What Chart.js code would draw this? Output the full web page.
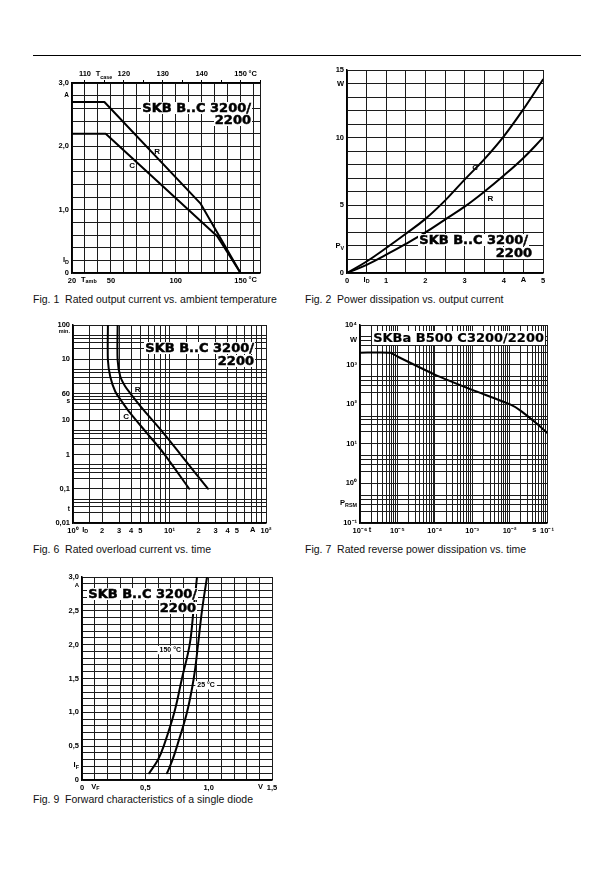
<!DOCTYPE html>
<html><head><meta charset="utf-8">
<script src="https://cdn.jsdelivr.net/npm/chart.js@4"></script>
<style>
html,body{margin:0;padding:0;background:#fff}
#page{position:relative;width:616px;height:871px;overflow:hidden;background:#fff;font-family:"Liberation Sans",Arial,sans-serif}
canvas{position:absolute}
.cap{position:absolute;font-size:10.5px;color:#111;white-space:pre}
.tb{position:absolute;background:#fff;font:bold 13px "DejaVu Sans",sans-serif;color:#000;line-height:12px;white-space:nowrap;padding:0 1px;z-index:5;-webkit-text-stroke:0.5px #000}
.tb.thin{-webkit-text-stroke:0.2px #000}
</style></head><body>
<div id="page">
<div style="position:absolute;left:33px;top:55px;width:548px;height:1px;background:#000"></div>
<div class="cap" style="left:33px;top:293px">Fig. 1  Rated output current vs. ambient temperature</div>
<div class="cap" style="left:305px;top:293px">Fig. 2  Power dissipation vs. output current</div>
<div class="cap" style="left:33px;top:543px">Fig. 6  Rated overload current vs. time</div>
<div class="cap" style="left:305px;top:543px">Fig. 7  Rated reverse power dissipation vs. time</div>
<div class="cap" style="left:33px;top:793px">Fig. 9  Forward characteristics of a single diode</div>

<div class="tb" style="right:364px;top:102px">SKB B..C 3200/</div>
<div class="tb" style="right:364px;top:114px">2200</div>
<div class="tb" style="right:87px;top:234px">SKB B..C 3200/</div>
<div class="tb" style="right:83px;top:247px">2200</div>
<div class="tb" style="right:361px;top:342px">SKB B..C 3200/</div>
<div class="tb" style="right:361px;top:355px">2200</div>
<div class="tb thin" style="right:71px;top:331px;line-height:14px">SKBa B500 C3200/2200</div>
<div class="tb" style="right:418px;top:588px">SKB B..C 3200/</div>
<div class="tb" style="right:419px;top:602px">2200</div>
</div>
<script>
// ---------- Fig. 1: rated output current vs. ambient temperature ----------
const fig1_Tamb_R = [20, 45, 119, 150];
const fig1_ID_R   = [2.7, 2.7, 1.1, 0];
const fig1_Tamb_C = [20, 46, 132, 150];
const fig1_ID_C   = [2.2, 2.2, 0.58, 0];
const fig1_xLabels  = [[20,'20'],[50,'50'],[100,'100'],[150,'150']];
const fig1_x2Labels = [[110,'110'],[120,'120'],[130,'130'],[140,'140'],[150,'150']];
const fig1_yLabels  = [[0,'0'],[1,'1,0'],[2,'2,0'],[3,'3,0']];

// ---------- Fig. 2: power dissipation vs. output current ----------
const fig2_ID  = [0, 0.5, 1, 1.5, 2, 2.5, 3, 3.5, 4, 4.5, 5];
const fig2_PV_C = [0, 0.85, 1.85, 2.9, 4.0, 5.35, 6.9, 8.4, 10.1, 12.1, 14.3];
const fig2_PV_R = [0, 0.6, 1.35, 2.15, 3.0, 3.95, 4.9, 6.0, 7.2, 8.5, 10.0];
const fig2_xLabels = [[0,'0'],[1,'1'],[2,'2'],[3,'3'],[4,'4'],[5,'5']];
const fig2_yLabels = [[0,'0'],[5,'5'],[10,'10'],[15,'15']];

// ---------- Fig. 6: rated overload current vs. time ----------
const fig6_I_C = [2.3, 2.3, 2.43, 2.74, 3.21, 3.92, 5.83, 8.67, 16];
const fig6_t_C = [6000, 574, 188, 69, 35, 16, 4.2, 1.1, 0.1];
const fig6_I_R = [2.9, 2.9, 3.09, 3.48, 3.92, 5.38, 8.67, 13.9, 25];
const fig6_t_R = [6000, 574, 188, 96, 61, 20, 4.2, 0.79, 0.1];
const fig6_xLabels = [[1,'10⁰'],[2,'2'],[3,'3'],[4,'4'],[5,'5'],[10,'10¹'],[20,'2'],[30,'3'],[40,'4'],[50,'5'],[100,'10²']];
const fig6_yLabels = [[0.01,'0,01'],[0.1,'0,1'],[1,'1'],[10,'10'],[60,'60'],[600,'10'],[6000,'100']];

// ---------- Fig. 7: rated reverse power dissipation vs. time ----------
const fig7_t = [1e-6, 6.5e-6, 1e-5, 1e-4, 1e-3, 1e-2, 2e-2, 5e-2, 1e-1];
const fig7_P = [2000, 2000, 1600, 560, 230, 100, 68, 34, 19];
const fig7_xLabels = [[1e-6,'10⁻⁶'],[1e-5,'10⁻⁵'],[1e-4,'10⁻⁴'],[1e-3,'10⁻³'],[1e-2,'10⁻²'],[1e-1,'10⁻¹']];
const fig7_yLabels = [[0.1,'10⁻¹'],[1,'10⁰'],[10,'10¹'],[100,'10²'],[1000,'10³'],[10000,'10⁴']];

// ---------- Fig. 9: forward characteristics ----------
const fig9_I_150 = [0.1, 0.3, 0.5, 1.0, 1.5, 2.0, 2.5, 3.0];
const fig9_V_150 = [0.53, 0.6, 0.645, 0.729, 0.789, 0.85, 0.88, 0.908];
const fig9_I_25  = [0.1, 0.3, 0.5, 1.0, 1.5, 2.0, 2.5, 3.0];
const fig9_V_25  = [0.671, 0.715, 0.75, 0.829, 0.882, 0.916, 0.947, 0.987];
const fig9_xLabels = [[0,'0'],[0.5,'0,5'],[1,'1,0'],[1.5,'1,5']];
const fig9_yLabels = [[0,'0'],[0.5,'0,5'],[1,'1,0'],[1.5,'1,5'],[2,'2,0'],[2.5,'2,5'],[3,'3,0']];

// ---------- helpers ----------
const GRID = '#1c1c1c';
const FONT = 'Liberation Sans';
function range(a, b, step){ const o=[]; const n=Math.round((b-a)/step); for(let i=0;i<=n;i++) o.push(+(a+i*step).toFixed(6)); return o; }
function logGrid(k0, k1, mults){ const o=[]; for(let k=k0;k<k1;k++) for(const m of mults) o.push(+(m*Math.pow(10,k)).toPrecision(6)); o.push(+Math.pow(10,k1).toPrecision(6)); return o; }
function lab(list){ return v => { for(const [a,t] of list){ if(Math.abs(a-v) <= 1e-6*Math.abs(a)+1e-12) return t; } return ''; }; }
function pts(xs, ys){ return xs.map((x,i)=>({x, y: ys[i]})); }
function line(data, tension){ return { data, showLine:true, borderColor:'#000', borderWidth:2, pointRadius:0, tension: tension, fill:false, borderCapStyle:'round', borderJoinStyle:'round' }; }

function scale(o){
  const f = lab(o.labels || []);
  return {
    type: o.type || 'linear', position: o.pos, min: o.min, max: o.max,
    afterBuildTicks: s => { s.ticks = o.grid.map(v => ({value: v})); },
    afterFit: s => { if (o.pos === 'left' || o.pos === 'right') s.width = o.size; else s.height = o.size; },
    ticks: { autoSkip:false, maxRotation:0, minRotation:0, padding: o.pad != null ? o.pad : 3, color:'#000',
      font: { family: FONT, weight:'bold', size: 7.5 }, callback: v => f(v) },
    grid: { color: GRID, lineWidth: 1, drawTicks: !!o.ticksOut, tickLength: 3, tickColor:'#000', drawOnChartArea: o.onArea !== false },
    border: { display:true, color:'#000', width:1.5 }
  };
}

const textPlugin = {
  id: 'txt',
  afterDraw(chart, args, opts){
    const ctx = chart.ctx, ca = chart.chartArea;
    for (const it of (opts.items || [])){
      let px, py, align='center', base='middle';
      if (it.ax === 'y'){ px = ca.left - 3; py = chart.scales.y.getPixelForValue(it.v); align='right'; }
      else if (it.ax === 'x'){ px = chart.scales.x.getPixelForValue(it.v); py = ca.bottom + 3; base='top'; }
      else if (it.ax === 'x2'){ px = chart.scales.x2.getPixelForValue(it.v); py = ca.top - 5; base='bottom'; }
      else { px = chart.scales.x.getPixelForValue(it.x); py = chart.scales.y.getPixelForValue(it.y); }
      if (it.align) align = it.align;
      px += it.dx || 0; py += it.dy || 0;
      const size = it.size || 7.5;
      const f1 = `bold ${size}px "${FONT}"`, f2 = `bold ${size*0.72}px "${FONT}"`;
      ctx.save();
      ctx.font = f1; const w1 = ctx.measureText(it.text).width;
      ctx.font = f2; const w2 = it.sub ? ctx.measureText(it.sub).width : 0;
      const w = w1 + w2;
      const x0 = align === 'right' ? px - w : (align === 'center' ? px - w/2 : px);
      ctx.textAlign = 'left'; ctx.textBaseline = base;
      if (it.bg){ ctx.fillStyle = '#fff'; ctx.fillRect(x0 - 2, py - size*0.6, w + 4, size*1.2); }
      ctx.fillStyle = '#000';
      ctx.font = f1; ctx.fillText(it.text, x0, py);
      if (it.sub){ ctx.font = f2; ctx.fillText(it.sub, x0 + w1, py + size*0.35); }
      ctx.restore();
    }
  }
};

function make(L, T, W, H, scales, datasets, items, hasTop){
  const ML=40, MT=20, MR=14, MB=16;
  const cv = document.createElement('canvas');
  cv.width = W + ML + MR; cv.height = H + MT + MB;
  Object.assign(cv.style, { left:(L-ML)+'px', top:(T-MT)+'px', width:cv.width+'px', height:cv.height+'px' });
  document.getElementById('page').appendChild(cv);
  new Chart(cv, {
    type: 'scatter',
    data: { datasets },
    options: {
      responsive:false, animation:false, devicePixelRatio:1, events:[],
      layout: { padding: { left:0, right:MR, top: hasTop ? 0 : MT, bottom:0 } },
      scales,
      plugins: { legend:{display:false}, tooltip:{enabled:false}, txt:{ items } }
    },
    plugins: [textPlugin]
  });
}

// Fig. 1
make(72, 83, 188, 190, {
  x:  scale({ pos:'bottom', min:20, max:165, grid: range(20,160,10).concat([165]), labels: fig1_xLabels, size:16 }),
  x2: scale({ pos:'top', min:150-130/3, max:155, grid: range(110,155,5), labels: fig1_x2Labels, size:20, onArea:false, ticksOut:true, pad:2 }),
  y:  scale({ pos:'left', min:0, max:3, grid: range(0,3,0.2), labels: fig1_yLabels, size:40 })
}, [ line(pts(fig1_Tamb_R, fig1_ID_R), 0), line(pts(fig1_Tamb_C, fig1_ID_C), 0) ], [
  {ax:'y', v:2.8, text:'A', size:6.5}, {ax:'y', v:0.2, text:'I', sub:'D'},
  {ax:'x', v:33, text:'T', sub:'amb'}, {ax:'x', v:150, dx:8, align:'left', text:'°C'},
  {ax:'x2', v:114.9, text:'T', sub:'case'}, {ax:'x2', v:150, dx:8, align:'left', text:'°C'},
  {x:85.7, y:1.91, text:'R', size:8}, {x:66.4, y:1.70, text:'C', size:8}
], true);

// Fig. 2
make(347, 70, 196, 203, {
  x: scale({ pos:'bottom', min:0, max:5, grid: range(0,5,0.5), labels: fig2_xLabels, size:16 }),
  y: scale({ pos:'left', min:0, max:15, grid: range(0,15,1), labels: fig2_yLabels, size:40 })
}, [ line(pts(fig2_ID, fig2_PV_C), 0.4), line(pts(fig2_ID, fig2_PV_R), 0.4) ], [
  {ax:'y', v:14, text:'W'}, {ax:'y', v:2, text:'P', sub:'V'},
  {ax:'x', v:0.5, text:'I', sub:'D'}, {ax:'x', v:4.5, text:'A'},
  {x:3.27, y:7.76, text:'C', size:8}, {x:3.66, y:5.5, text:'R', size:8}
]);

// Fig. 6
const fig6_yGrid = [0.01,0.02,0.03,0.04,0.05,0.1,0.2,0.3,0.4,0.5,1,2,3,4,5,10,20,30,40,50,60,120,180,240,300,600,1200,1800,2400,3000,6000];
const fig6_xGrid = [1,1.5,2,3,4,5,6,7,8,9,10,15,20,30,40,50,60,70,80,90,100];
make(73, 325, 193, 198, {
  x: scale({ type:'logarithmic', pos:'bottom', min:1, max:100, grid: fig6_xGrid, labels: fig6_xLabels, size:16 }),
  y: scale({ type:'logarithmic', pos:'left', min:0.01, max:6000, grid: fig6_yGrid, labels: fig6_yLabels, size:40 })
}, [ line(pts(fig6_I_C, fig6_t_C), 0.3), line(pts(fig6_I_R, fig6_t_R), 0.3) ], [
  {ax:'y', v:3800, text:'min.', size:5.5}, {ax:'y', v:35, text:'s', size:6.5}, {ax:'y', v:0.0245, text:'t', size:6.5},
  {ax:'x', v:1.34, text:'I', sub:'D'}, {ax:'x', v:73, text:'A'},
  {x:4.67, y:77, text:'R', size:8}, {x:3.56, y:12.3, text:'C', size:8}
]);

// Fig. 7
make(360, 325, 187, 198, {
  x: scale({ type:'logarithmic', pos:'bottom', min:1e-6, max:1e-1, grid: logGrid(-6,-1,[1,2,3,4,5,6,7,8,9]), labels: fig7_xLabels, size:16 }),
  y: scale({ type:'logarithmic', pos:'left', min:0.1, max:1e4, grid: logGrid(-1,4,[1,2,3,4,5]), labels: fig7_yLabels, size:40 })
}, [ line(pts(fig7_t, fig7_P), 0.2) ], [
  {ax:'y', v:4200, text:'W'}, {ax:'y', v:0.316, text:'P', sub:'RSM'},
  {ax:'x', v:1.86e-6, text:'t'}, {ax:'x', v:0.046, text:'s'}
]);

// Fig. 9
make(82, 577, 190, 203, {
  x: scale({ pos:'bottom', min:0, max:1.5, grid: range(0,1.5,0.1), labels: fig9_xLabels, size:16 }),
  y: scale({ pos:'left', min:0, max:3, grid: range(0,3,0.1), labels: fig9_yLabels, size:40 })
}, [ line(pts(fig9_V_150, fig9_I_150), 0.4), line(pts(fig9_V_25, fig9_I_25), 0.4) ], [
  {ax:'y', v:2.88, text:'A', size:6}, {ax:'y', v:0.22, text:'I', sub:'F'},
  {ax:'x', v:0.105, text:'V', sub:'F'}, {ax:'x', v:1.41, text:'V'},
  {x:0.697, y:1.92, text:'150 °C', bg:true, size:7}, {x:0.98, y:1.40, text:'25 °C', bg:true, size:7}
]);
</script>
</body></html>
